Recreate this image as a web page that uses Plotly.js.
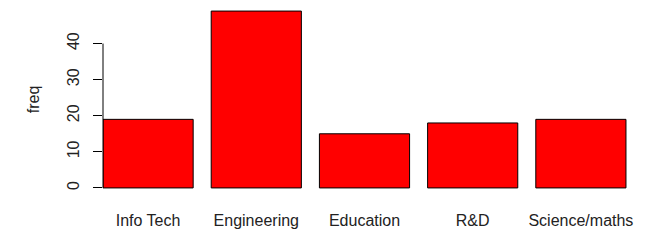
<!DOCTYPE html>
<html>
<head>
<meta charset="utf-8">
<script src="https://cdn.plot.ly/plotly-3.0.1.min.js"></script>
<style>html,body{margin:0;padding:0;background:#fff;}#chart{width:670px;height:250px;}</style>
</head>
<body>
<div id="chart"></div>
<script>
var categories = ["Info Tech", "Engineering", "Education", "R&D", "Science/maths"];
var freq = [19, 49, 15, 18, 19];
var yTicks = [0, 10, 20, 30, 40];

var maxV = Math.max.apply(null, freq);
var ext = maxV * 0.04;
var idx = categories.map(function(_, i){ return i; });
var barW = 1 / 1.2;

var trace = {
  type: 'bar',
  x: idx,
  y: freq,
  width: barW,
  marker: {color: '#FF0000', line: {color: '#000000', width: 1}},
  hoverinfo: 'none'
};

var layout = {
  width: 670, height: 250,
  margin: {l: 103, r: 35, t: 4, b: 55, pad: 0},
  paper_bgcolor: '#fff', plot_bgcolor: '#fff',
  showlegend: false,
  font: {family: 'Liberation Sans, Arial, sans-serif', size: 16, color: '#222'},
  xaxis: {
    range: [-barW / 2, idx.length - 0.5],
    tickvals: idx, ticktext: categories,
    showgrid: false, zeroline: false, showline: false,
    ticks: '', ticklabelstandoff: 14,
    tickfont: {size: 16, color: '#222'}
  },
  yaxis: {
    range: [-ext, maxV + ext],
    tickvals: yTicks, ticktext: yTicks.map(String),
    tickangle: -90,
    showgrid: false, zeroline: false, showline: false,
    ticks: 'outside', ticklen: 9, tickcolor: '#000', tickwidth: 1,
    ticklabelstandoff: 8,
    tickfont: {size: 16, color: '#222'},
    title: {text: 'freq', font: {size: 16, color: '#222'}, standoff: 20}
  },
  shapes: [{
    type: 'line', xref: 'paper', yref: 'y',
    x0: 0, x1: 0, y0: yTicks[0], y1: yTicks[yTicks.length - 1],
    line: {color: '#000', width: 1}
  }]
};

Plotly.newPlot('chart', [trace], layout, {staticPlot: true, displayModeBar: false});
</script>
</body>
</html>
